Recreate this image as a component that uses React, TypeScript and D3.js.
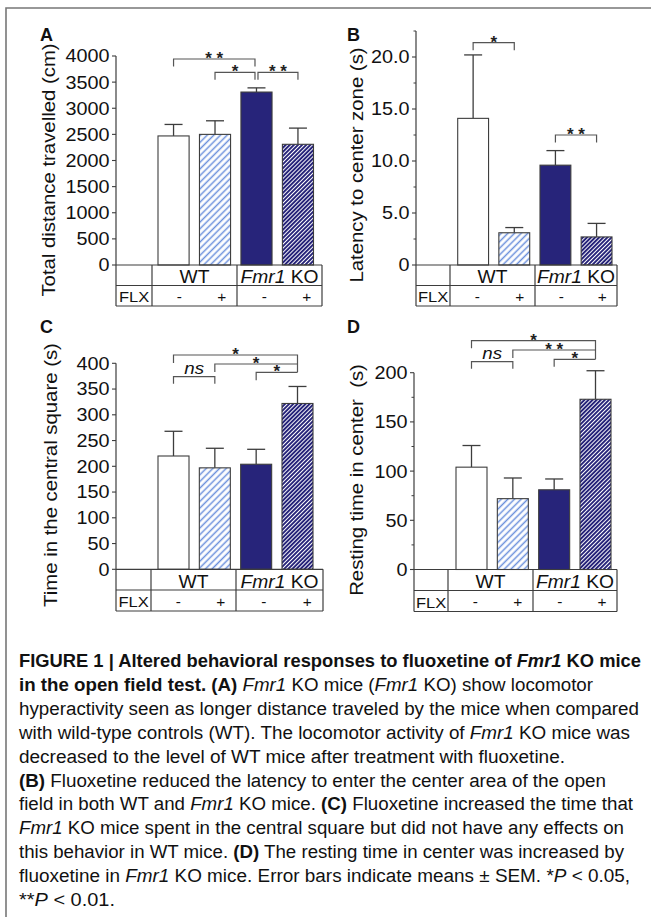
import React from "react";
import * as d3 from "d3";

// ── Data ─────────────────────────────────────────────────────────────────────
const GENOTYPES = ["WT", "Fmr1 KO"];
const FLX_SIGNS = ["-", "+", "-", "+"];
const CONDITIONS = [0, 1, 2, 3]; // WT-, WT+, KO-, KO+

const distanceMean = [2470, 2500, 3310, 2310];
const distanceSem = [220, 260, 80, 310];
const latencyMean = [14.1, 3.1, 9.6, 2.7];
const latencySem = [6.1, 0.5, 1.4, 1.3];
const centralMean = [220, 197, 204, 322];
const centralSem = [48, 38, 29, 33];
const restingMean = [104, 72, 81, 173];
const restingSem = [22, 21, 11, 29];

const distanceTicks = [0, 500, 1000, 1500, 2000, 2500, 3000, 3500, 4000];
const latencyTicks = [0, 5, 10, 15, 20];
const latencyMinor = [2.5, 7.5, 12.5, 17.5, 22.5];
const centralTicks = [0, 50, 100, 150, 200, 250, 300, 350, 400];
const restingTicks = [0, 50, 100, 150, 200];
const restingMinor = [25, 75, 125, 175];

type Sig = { from: number; to: number; label: string };
const distanceSig: Sig[] = [
  { from: 0, to: 2, label: "**" },
  { from: 1, to: 2, label: "*" },
  { from: 2, to: 3, label: "**" },
];
const latencySig: Sig[] = [
  { from: 0, to: 1, label: "*" },
  { from: 2, to: 3, label: "**" },
];
const centralSig: Sig[] = [
  { from: 0, to: 3, label: "*" },
  { from: 1, to: 3, label: "*" },
  { from: 2, to: 3, label: "*" },
  { from: 0, to: 1, label: "ns" },
];
const restingSig: Sig[] = [
  { from: 0, to: 3, label: "*" },
  { from: 1, to: 3, label: "**" },
  { from: 2, to: 3, label: "*" },
  { from: 0, to: 1, label: "ns" },
];

// caption lines: [text, style] segments  (b = bold, i = italic)
const CAPTION: [string, string][][] = [
  [["FIGURE 1 | Altered behavioral responses to fluoxetine of ", "b"], ["Fmr1", "bi"], [" KO mice", "b"]],
  [["in the open field test. (A)", "b"], [" ", ""], ["Fmr1", "i"], [" KO mice (", ""], ["Fmr1", "i"], [" KO) show locomotor", ""]],
  [["hyperactivity seen as longer distance traveled by the mice when compared", ""]],
  [["with wild-type controls (WT). The locomotor activity of ", ""], ["Fmr1", "i"], [" KO mice was", ""]],
  [["decreased to the level of WT mice after treatment with fluoxetine.", ""]],
  [["(B)", "b"], [" Fluoxetine reduced the latency to enter the center area of the open", ""]],
  [["field in both WT and ", ""], ["Fmr1", "i"], [" KO mice. ", ""], ["(C)", "b"], [" Fluoxetine increased the time that", ""]],
  [["Fmr1", "i"], [" KO mice spent in the central square but did not have any effects on", ""]],
  [["this behavior in WT mice. ", ""], ["(D)", "b"], [" The resting time in center was increased by", ""]],
  [["fluoxetine in ", ""], ["Fmr1", "i"], [" KO mice. Error bars indicate means \u00B1 SEM. *", ""], ["P", "i"], [" < 0.05,", ""]],
  [["**", ""], ["P", "i"], [" < 0.01.", ""]],
];
const CAPTION_WIDTHS = [622, 574, 620, 611, 546, 587, 614, 605, 605, 611, 96];

// ── Styles ──────────────────────────────────────────────────────────────────
const FONT = "'Liberation Sans', Arial, Helvetica, sans-serif";
const NARROW = "'Liberation Sans Narrow', 'Liberation Sans', Arial, sans-serif";
const STRETCH = 1.1;
const NAVY = "#27247a";
const LINE = "#3d3d3d";
const FILLS = ["#ffffff", "url(#hatchLight)", NAVY, "url(#hatchDark)"];

// ── Layout of the four panels ────────────────────────────────────────────────
const panels = [
  {
    label: "A", labelX: 40, labelY: 40.5,
    title: "Total distance travelled (cm)", titleX: 55, titleY: 170,
    axisX: 116, domain: [0, 4000], yRange: [265, 56], axisTop: 4000,
    ticks: distanceTicks, minor: [] as number[], fmt: (d: number) => String(d),
    barSpan: [158, 313.5], cols: [116, 152, 237, 322], rows: [265, 285.5, 306],
    mean: distanceMean, sem: distanceSem, sig: distanceSig, gapShared: true,
    sigY: [59, 72.3, 72.3], legL: [7.5, 7.5, 7.5], legR: [7.5, 7.5, 7.5],
  },
  {
    label: "B", labelX: 347, labelY: 40.5,
    title: "Latency to center zone (s)", titleX: 363, titleY: 165,
    axisX: 416, domain: [0, 20], yRange: [265, 57], axisTop: 22.5,
    ticks: latencyTicks, minor: latencyMinor, fmt: (d: number) => (d === 0 ? "0" : d.toFixed(1)),
    barSpan: [457.7, 612], cols: [416, 450, 535, 617], rows: [265, 285.5, 306],
    mean: latencyMean, sem: latencySem, sig: latencySig, gapShared: false,
    sigY: [42.7, 135], legL: [7.5, 7.5], legR: [7.5, 7.5],
  },
  {
    label: "C", labelX: 40, labelY: 333,
    title: "Time in the central square (s)", titleX: 57, titleY: 475,
    axisX: 116, domain: [0, 400], yRange: [569.3, 363.3], axisTop: 400,
    ticks: centralTicks, minor: [] as number[], fmt: (d: number) => String(d),
    barSpan: [158, 313], cols: [116, 151, 236, 323], rows: [569.3, 590, 611],
    mean: centralMean, sem: centralSem, sig: centralSig, gapShared: false,
    sigY: [355, 364, 372.3, 376.7], legL: [8, 8, 8, 7], legR: [17.3, 0, 0, 7],
  },
  {
    label: "D", labelX: 347, labelY: 333,
    title: "Resting time in center\u00A0 (s)", titleX: 363, titleY: 480,
    axisX: 414, domain: [0, 200], yRange: [569.5, 372.7], axisTop: 200,
    ticks: restingTicks, minor: restingMinor, fmt: (d: number) => String(d),
    barSpan: [456, 611], cols: [414, 448, 533, 617], rows: [569.5, 590.5, 611.5],
    mean: restingMean, sem: restingSem, sig: restingSig, gapShared: false,
    sigY: [340.7, 350, 359.3, 361.7], legL: [7.5, 8, 7.5, 7], legR: [18.6, 0, 0, 7],
  },
];

type Panel = (typeof panels)[number];

// horizontally widened text (the figure's type is wider than Arial)
function SText(props: {
  x: number; y: number; size: number; anchor?: string; rotate?: boolean;
  italic?: boolean; children: React.ReactNode;
}) {
  const { x, y, size, anchor = "start", rotate = false, italic, children } = props;
  return (
    <text
      transform={`translate(${x},${y})${rotate ? " rotate(-90)" : ""} scale(${STRETCH},1)`}
      fontSize={size}
      textAnchor={anchor}
      fontStyle={italic ? "italic" : undefined}
      fill="#111"
      style={{ whiteSpace: "pre" }}
    >
      {children}
    </text>
  );
}

function ChartPanel({ p }: { p: Panel }) {
  const y = d3.scaleLinear().domain(p.domain).range(p.yRange);
  const x = d3.scaleBand<number>().domain(CONDITIONS).range(p.barSpan as [number, number]).paddingInner(0.25);
  const bw = x.bandwidth();
  const cx = (i: number) => (x(i) ?? 0) + bw / 2;
  const y0 = y(0);
  const [c0, c1, c2, c3] = p.cols;
  const [r0, r1, r2] = p.rows;

  return (
    <g fontFamily={FONT}>
      {/* panel letter */}
      <text x={p.labelX} y={p.labelY} fontSize={18} fontWeight="bold" fill="#111">{p.label}</text>

      {/* y title */}
      <SText x={p.titleX} y={p.titleY} size={18.5} anchor="middle" rotate>{p.title}</SText>

      {/* y axis */}
      <line x1={p.axisX} x2={p.axisX} y1={y(p.axisTop)} y2={y0} stroke={LINE} strokeWidth={1.2} />
      {p.ticks.map((t) => (
        <g key={t}>
          <line x1={p.axisX - 4} x2={p.axisX} y1={y(t)} y2={y(t)} stroke={LINE} strokeWidth={1.1} />
          <SText x={p.axisX - 6.5} y={y(t) + 6.4} size={18} anchor="end">{p.fmt(t)}</SText>
        </g>
      ))}
      {p.minor.map((t) => (
        <line key={"m" + t} x1={p.axisX - 2.5} x2={p.axisX} y1={y(t)} y2={y(t)} stroke={LINE} strokeWidth={1} />
      ))}

      {/* bars + error bars */}
      {CONDITIONS.map((i) => {
        const top = y(p.mean[i]);
        const err = y(p.mean[i] + p.sem[i]);
        return (
          <g key={i}>
            <line x1={cx(i)} x2={cx(i)} y1={top} y2={err} stroke={LINE} strokeWidth={1.3} />
            <line x1={cx(i) - 9} x2={cx(i) + 9} y1={err} y2={err} stroke={LINE} strokeWidth={1.3} />
            <rect x={x(i)} y={top} width={bw} height={y0 - top} fill={FILLS[i]} stroke={LINE} strokeWidth={1.1} />
          </g>
        );
      })}

      {/* significance brackets */}
      {p.sig.map((s, k) => {
        const x0 = cx(s.from) + (p.gapShared && p.sig.some((o) => o.to === s.from) ? 1.5 : 0);
        const x1 = cx(s.to) - (p.gapShared && p.sig.some((o) => o.from === s.to) ? 1.5 : 0);
        const yy = p.sigY[k];
        const mid = (x0 + x1) / 2;
        return (
          <g key={k}>
            <path
              d={`M${x0},${yy + p.legL[k]}V${yy}H${x1}V${yy + p.legR[k]}`}
              fill="none" stroke="#555" strokeWidth={1.2}
            />
            {s.label === "ns" ? (
              <SText x={mid} y={yy - 2.5} size={17} anchor="middle" italic>ns</SText>
            ) : (
              <text x={mid} y={yy + 5} fontSize={17} fontWeight="bold" textAnchor="middle" fill="#222" style={{ whiteSpace: "pre" }}>
                {s.label === "**" ? "* *" : "*"}
              </text>
            )}
          </g>
        );
      })}

      {/* group / treatment table */}
      {[r0, r1, r2].map((r) => (
        <line key={"h" + r} x1={c0} x2={c3} y1={r} y2={r} stroke={LINE} strokeWidth={1.2} />
      ))}
      {[c0, c1, c2, c3].map((c) => (
        <line key={"v" + c} x1={c} x2={c} y1={r0} y2={r2} stroke={LINE} strokeWidth={1.2} />
      ))}
      <SText x={(c1 + c2) / 2} y={r1 - 2.5} size={17.5} anchor="middle">{GENOTYPES[0]}</SText>
      <SText x={(c2 + c3) / 2} y={r1 - 2.5} size={17.5} anchor="middle">
        <tspan fontStyle="italic">{GENOTYPES[1].split(" ")[0]}</tspan>
        {" " + GENOTYPES[1].split(" ")[1]}
      </SText>
      <SText x={(c0 + c1) / 2} y={r2 - 4} size={15} anchor="middle">FLX</SText>
      {FLX_SIGNS.map((s, i) => {
        const cell = i < 2 ? [c1, c2] : [c2, c3];
        const frac = i % 2 === 0 ? 0.32 : 0.82;
        return (
          <SText key={i} x={cell[0] + (cell[1] - cell[0]) * frac} y={r2 - 4.5} size={14} anchor="middle">{s}</SText>
        );
      })}
    </g>
  );
}

function Caption() {
  return (
    <g fontFamily={NARROW} fill="#111">
      {CAPTION.map((line, li) => (
        <text
          key={li}
          x={19}
          y={667 + li * 23.9}
          fontSize={18}
          textLength={CAPTION_WIDTHS[li]}
          lengthAdjust="spacingAndGlyphs"
          style={{ whiteSpace: "pre" }}
        >
          {line.map(([t, st], si) => (
            <tspan
              key={si}
              fontWeight={st.includes("b") ? "bold" : undefined}
              fontStyle={st.includes("i") ? "italic" : undefined}
            >
              {t}
            </tspan>
          ))}
        </text>
      ))}
    </g>
  );
}

export default function App() {
  return (
    <div style={{ position: "absolute", left: 0, top: 0, background: "#fff" }}>
      <svg width={651} height={917} viewBox="0 0 651 917" style={{ display: "block" }}>
        <defs>
          <pattern id="hatchLight" patternUnits="userSpaceOnUse" width={4.7} height={4.7} patternTransform="rotate(45)">
            <rect width={4.7} height={4.7} fill="#fff" />
            <line x1={2.35} x2={2.35} y1={0} y2={4.7} stroke="#6a8fdc" strokeWidth={1.5} />
          </pattern>
          <pattern id="hatchDark" patternUnits="userSpaceOnUse" width={2.9} height={2.9} patternTransform="rotate(45)">
            <rect width={2.9} height={2.9} fill={NAVY} />
            <line x1={1.45} x2={1.45} y1={0} y2={2.9} stroke="#fff" strokeWidth={0.95} />
          </pattern>
        </defs>
        <rect width={651} height={917} fill="#fff" />
        {/* figure frame */}
        <path d="M651,8H6V917" fill="none" stroke="#777" strokeWidth={1.6} />
        {panels.map((p) => (
          <ChartPanel key={p.label} p={p} />
        ))}
        <Caption />
      </svg>
    </div>
  );
}
